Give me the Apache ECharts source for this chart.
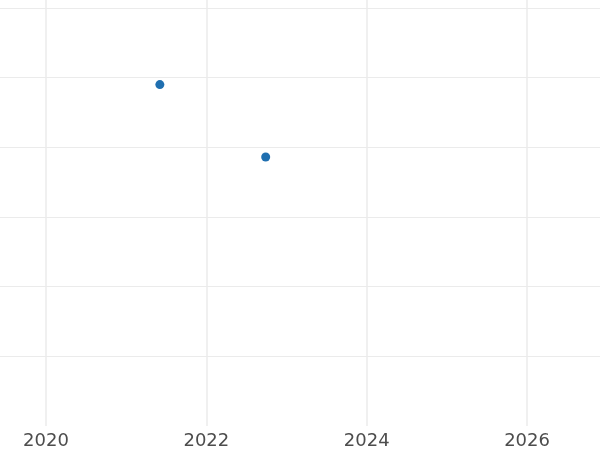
<!DOCTYPE html>
<html>
<head>
<meta charset="utf-8">
<script src="https://cdn.jsdelivr.net/npm/echarts@6/dist/echarts.min.js"></script>
<style>html,body{margin:0;padding:0;background:#fff}#c{width:600px;height:450px}</style>
</head>
<body>
<div id="c"></div>
<script>
const xValues = [2021.42, 2022.74];
const yValues = [4.9, 3.86];
const xTicks = [2020, 2022, 2024, 2026];
const yTicks = [1, 2, 3, 4, 5, 6];

const chart = echarts.init(document.getElementById('c'), null, {renderer: 'canvas'});
const gridColor = '#ebebeb';
chart.setOption({
  animation: false,
  backgroundColor: '#ffffff',
  grid: {left: 0, right: 0, top: 0, bottom: 22, containLabel: false},
  xAxis: {
    type: 'value', min: 2019.426, max: 2026.91,
    axisLine: {show: false},
    axisTick: {show: false, customValues: xTicks},
    axisLabel: {
      margin: 6, fontSize: 18, color: '#4d4d4d', fontFamily: 'DejaVu Sans',
      customValues: xTicks, formatter: v => String(v)
    },
    splitLine: {show: true, lineStyle: {color: gridColor, width: 1.5}}
  },
  yAxis: {
    type: 'value', min: 0, max: 6.114,
    axisLine: {show: false},
    axisTick: {show: false, customValues: yTicks},
    axisLabel: {show: false, customValues: yTicks},
    splitLine: {show: true, lineStyle: {color: gridColor, width: 1.2}}
  },
  series: [{
    type: 'scatter',
    data: xValues.map((x, i) => [x, yValues[i]]),
    symbolSize: 9,
    itemStyle: {color: '#1f6fb0', opacity: 1}
  }]
});
</script>
</body>
</html>
